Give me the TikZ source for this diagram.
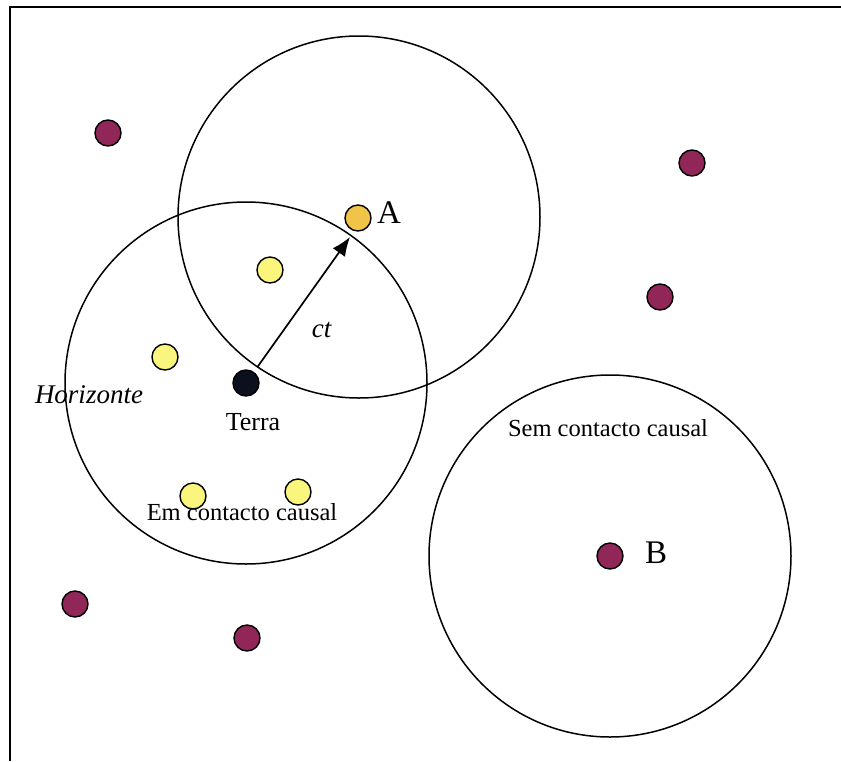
\documentclass[tikz,border=0pt]{standalone}
\usepackage{fontspec}
\setmainfont{Liberation Serif}
\usetikzlibrary{arrows.meta, positioning}
\definecolor{galaxy}{RGB}{145,38,88}
\definecolor{nearby}{RGB}{250,245,125}
\definecolor{pointA}{RGB}{240,196,72}
\definecolor{earth}{RGB}{12,16,30}

\begin{document}
\begin{tikzpicture}[
    x=1pt, y=-1pt,
    horizon/.style={circle, draw, line width=1.5pt, minimum size=362pt, inner sep=0pt},
    dot/.style={circle, draw, line width=1.4pt, minimum size=26pt, inner sep=0pt},
    far/.style={dot, fill=galaxy},
    near/.style={dot, fill=nearby},
    txt/.style={inner sep=0pt, font=\fontsize{24.5}{28}\selectfont},
    big/.style={inner sep=0pt, font=\fontsize{33}{38}\selectfont},
    arrow/.style={-{Latex[length=19pt, width=15pt]}, line width=1.7pt}
]
\useasboundingbox (0,0) rectangle (841,761);
\draw[line width=1.8pt] (10,761) -- (10,7) -- (841,7);

\node[horizon] (hterra) at (246,383) {};
\node[horizon] (ha) at (359,217) {};
\node[horizon] (hb) at (610,556) {};

\node[dot, fill=earth] (terra) at (246,383) {};
\node[dot, fill=pointA] (a) at (358,218) {};
\node[far] (b) at (610,556) {};
\node[far] (g1) at (108,133) {};
\node[far] (g2) at (692,163) {};
\node[far] (g3) at (660,297) {};
\node[far] (g4) at (75,604) {};
\node[far] (g5) at (247,638) {};
\node[near] (n1) at (270,270) {};
\node[near] (n2) at (165,357) {};
\node[near] (n3) at (193,496) {};
\node[near] (n4) at (298,492) {};

\coordinate (rim) at (350,237);
\draw[arrow, shorten <=6pt] (terra) -- (rim);

\node[big, anchor=base west] (labA) at (377,223) {A};
\node[big, anchor=base west] (labB) at (645,563) {B};
\node[txt, anchor=base, font=\fontsize{27}{30}\selectfont] (labct) at (322,337) {\textit{ct}};
\node[txt, anchor=base, font=\fontsize{26}{30}\selectfont] (labterra) at (253,430) {Terra};
\node[txt, anchor=base, font=\fontsize{27}{30}\selectfont\itshape] (labhor) at (89,403) {Horizonte};
\node[txt, anchor=base] (labem) at (242,520) {Em contacto causal};
\node[txt, anchor=base] (labsem) at (608,436) {Sem contacto causal};
\end{tikzpicture}
\end{document}
